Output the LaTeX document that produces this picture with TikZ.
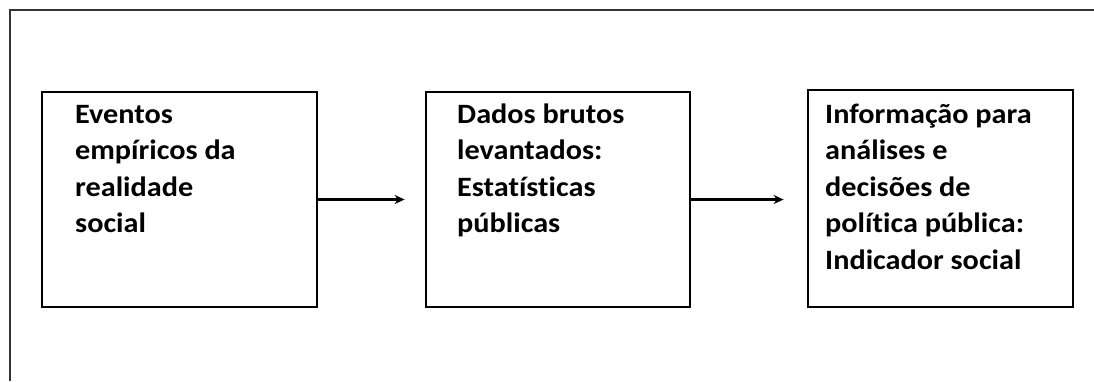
\documentclass[tikz,border=0pt]{standalone}
\usepackage{fontspec}
\setmainfont[Ligatures={NoCommon,NoContextual}]{Carlito}
\usetikzlibrary{arrows.meta}
\newcommand{\boxtext}[1]{\scalebox{1.08}[1]{\fontsize{28}{36.5}\selectfont\bfseries\begin{tabular}[t]{@{}l@{}}#1\end{tabular}}}
\tikzset{
  frame/.style={line width=2.2pt, draw=black!80},
  stagebox/.style={draw=black, line width=2.8pt, minimum height=215pt, inner sep=0pt},
  label/.style={anchor=base west, inner sep=0pt},
  arr/.style={line width=2.4pt, -{Stealth[length=10pt,width=9pt]}},
}
\begin{document}
\begin{tikzpicture}[x=1pt,y=-1pt]
\useasboundingbox (0,0) rectangle (1094,381);
\fill[white] (0,0) rectangle (1094,381);
\coordinate (fr1) at (10,381);
\coordinate (fr2) at (10,10);
\coordinate (fr3) at (1094,10);
\draw[frame] (fr1) -- (fr2) -- (fr3);
\node[stagebox, minimum width=275pt] (b1) at (179.5,199.5) {};
\node[stagebox, minimum width=264pt] (b2) at (558,199.5) {};
\node[stagebox, minimum width=265pt, minimum height=217pt] (b3) at (940.5,198.5) {};
\node[label] (t1) at (75,123) {\boxtext{Eventos\\empíricos da\\realidade\\social}};
\node[label] (t2) at (457,123) {\boxtext{Dados brutos\\levantados:\\Estatísticas\\públicas}};
\node[label] (t3) at (825,123) {\boxtext{Informação para\\análises e\\decisões de\\política pública:\\Indicador social}};
\draw[arr] (b1.east) -- ([xshift=-20pt]b2.west);
\draw[arr] (b2.east) -- ([xshift=-23pt]b3.west |- b2.east);
\end{tikzpicture}
\end{document}
